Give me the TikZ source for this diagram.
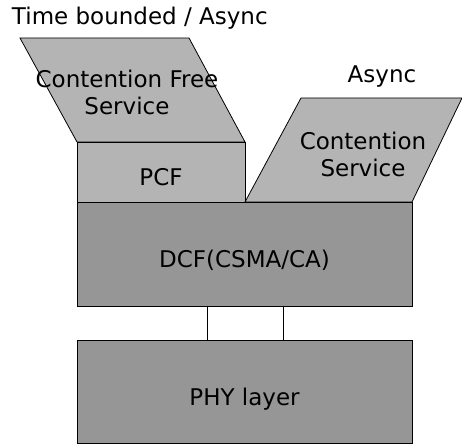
\documentclass[tikz,border=0pt]{standalone}
\usepackage{fontspec}
\setmainfont{DejaVu Sans}
\usetikzlibrary{positioning}
\usetikzlibrary{calc}
\definecolor{lightblock}{RGB}{180,180,180}
\definecolor{darkblock}{RGB}{150,150,150}

\begin{document}
\begin{tikzpicture}[x=1pt,y=1pt,node distance=34pt,
  every node/.style={inner sep=0,outer sep=0,font=\fontsize{23}{27}\selectfont},
  layer/.style={draw,line width=0.8pt,fill=darkblock,minimum width=335pt,text height=28pt,text depth=0pt},
  sublayer/.style={draw,line width=0.8pt,fill=lightblock,minimum width=168pt,minimum height=60pt,text height=28pt,text depth=0pt}]

\useasboundingbox (0,0) rectangle (462,444);

\node (dcf) [layer,minimum height=104pt] at (244.5,190) {DCF(CSMA/CA)};
\node (phy) [layer,minimum height=103pt,below= of dcf] {PHY layer};
\node (pcf) [sublayer,above right=0pt and 0pt of dcf.north west] {PCF};

\filldraw[line width=0.8pt,fill=lightblock]
  (pcf.north west) -- ++(-57,104) -- ++(169,0) -- (pcf.north east) -- cycle;
\filldraw[line width=0.8pt,fill=lightblock]
  (pcf.south east) -- ++(56,104) -- (462,346) -- (dcf.north east) -- cycle;

\node (cfs) [align=center] at ($(pcf.north)+(-34,50)$) {Contention Free\\Service};
\node (cs) [align=center] at ($(dcf.north east)+(-49,48)$) {Contention\\Service};

\node (tb) [anchor=west] at (12,426) {Time bounded / Async};
\node (async) at (382,367) {Async};

\path[draw,line width=0.6pt]
        ([xshift=130pt]dcf.south west) edge ([xshift=130pt]phy.north west)
        ([xshift=206pt]dcf.south west) edge ([xshift=206pt]phy.north west);
\end{tikzpicture}
\end{document}
